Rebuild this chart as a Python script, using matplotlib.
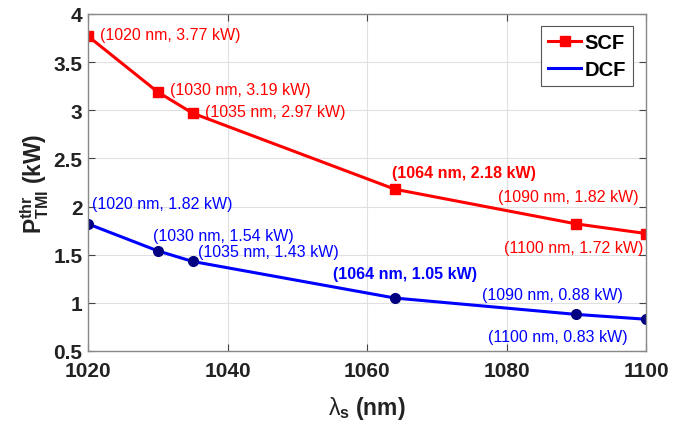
import numpy as np
import matplotlib
matplotlib.use('Agg')
import matplotlib.pyplot as plt

plt.rcParams['font.family'] = ['Liberation Sans', 'DejaVu Sans']
plt.rcParams['mathtext.fontset'] = 'custom'
plt.rcParams['mathtext.rm'] = 'Liberation Sans:bold'
plt.rcParams['mathtext.bf'] = 'Liberation Sans:bold'
plt.rcParams['mathtext.it'] = 'Liberation Sans'

# data
wl = [1020, 1030, 1035, 1064, 1090, 1100]
scf = [3.77, 3.19, 2.97, 2.18, 1.82, 1.72]
dcf = [1.82, 1.54, 1.43, 1.05, 0.88, 0.83]

# label anchor positions (data coords, left/center aligned)
scf_lab_x = [1021.7, 1031.8, 1036.8, 1063.6, 1078.8, 1079.6]
scf_lab_y = [3.79, 3.22, 2.99, 2.35, 2.10, 1.58]
dcf_lab_x = [1020.6, 1029.3, 1035.8, 1055.1, 1076.5, 1077.3]
dcf_lab_y = [2.03, 1.70, 1.53, 1.31, 1.09, 0.65]

fig = plt.figure(figsize=(6.76, 4.31), dpi=100)
ax = fig.add_axes([88/676, 1 - 352/431, (646-88)/676, (352-15)/431])

ax.plot(wl, scf, color='red', lw=2.2, marker='s', ms=6.5, label='SCF')
ax.plot(wl, dcf, color='blue', lw=2.2, label='DCF')
ax.plot(wl, dcf, ls='none', marker='o', ms=7, color='#000080')

for i in range(len(wl)):
    bold = 'bold' if wl[i] == 1064 else 'normal'
    ax.text(scf_lab_x[i], scf_lab_y[i], f'({wl[i]} nm, {scf[i]:.2f} kW)',
            color='red', fontsize=11.5, ha='left', va='center', fontweight=bold)
    ax.text(dcf_lab_x[i], dcf_lab_y[i], f'({wl[i]} nm, {dcf[i]:.2f} kW)',
            color='blue', fontsize=11.5, ha='left', va='center', fontweight=bold)

ax.set_xlim(1020, 1100)
ax.set_ylim(0.5, 4)
ax.set_xticks(np.arange(1020, 1101, 20))
ax.set_yticks(np.arange(0.5, 4.01, 0.5))
ax.set_yticklabels(['0.5', '1', '1.5', '2', '2.5', '3', '3.5', '4'])
ax.grid(True, color='#e0e0e0', lw=0.8)
ax.tick_params(direction='in', labelsize=15, length=5, color='#444444',
               top=True, right=True)
ax.tick_params(axis='x', pad=7)
ax.tick_params(axis='y', pad=4)
for lab in ax.get_xticklabels() + ax.get_yticklabels():
    lab.set_fontweight('bold')
    lab.set_color('#222222')
for s in ax.spines.values():
    s.set_color('#888888')
    s.set_linewidth(1)

ax.set_xlabel(r'$\lambda_\mathbf{s}$ (nm)', fontsize=16.5, fontweight='bold',
              labelpad=10, color='#222222')
ax.set_ylabel(r'$\mathbf{P}^{\mathbf{thr}}_{\mathbf{TMI}}$ (kW)', fontsize=16.5,
              fontweight='bold', labelpad=2, color='#222222')

leg = ax.legend(loc='upper right', prop={'weight': 'bold', 'size': 14.5},
                fancybox=False, edgecolor='#555555', framealpha=1,
                handlelength=1.6, handletextpad=0.2, borderpad=0.35,
                labelspacing=0.4, borderaxespad=0,
                bbox_to_anchor=(0.977, 0.964))
leg.get_frame().set_linewidth(0.8)

fig.savefig('out.png', dpi=100)
